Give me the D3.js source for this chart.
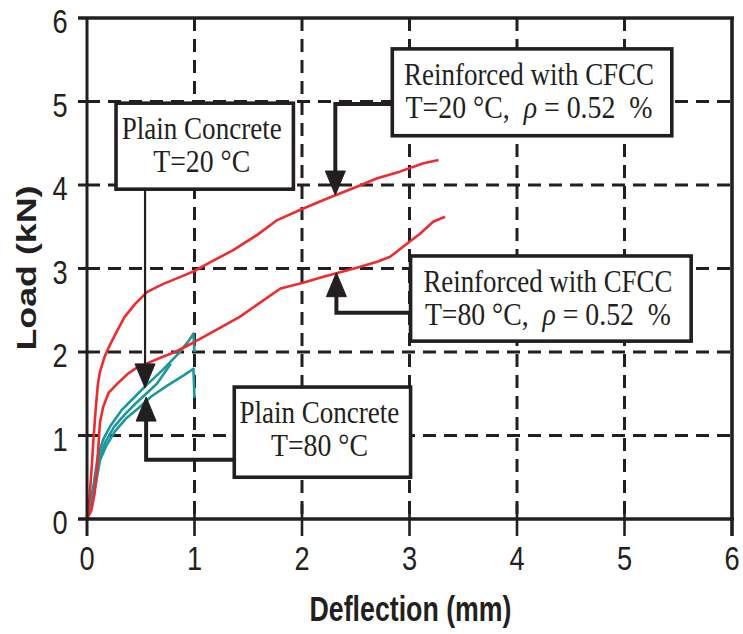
<!DOCTYPE html>
<html>
<head>
<meta charset="utf-8">
<script src="https://cdn.jsdelivr.net/npm/d3@7"></script>
<style>
  html, body { margin: 0; padding: 0; background: #fff; }
  svg { display: block; }
</style>
</head>
<body>
<svg id="chart" width="743" height="634"></svg>
<script>
// ---------------- data ----------------
const xTicks = [0, 1, 2, 3, 4, 5, 6];
const yTicks = [0, 1, 2, 3, 4, 5, 6];
const xTitle = "Deflection (mm)";
const yTitle = "Load (kN)";

// Reinforced with CFCC, T=20 °C
const cfcc20 = [[0,0],[0.02,0.2],[0.04,0.55],[0.06,0.95],[0.08,1.3],[0.1,1.6],[0.12,1.76],[0.16,1.93],[0.2,2.05],[0.27,2.23],[0.35,2.42],[0.45,2.58],[0.56,2.72],[0.7,2.81],[0.87,2.9],[1.0,2.97],[1.14,3.07],[1.36,3.22],[1.58,3.4],[1.77,3.58],[1.98,3.7],[2.2,3.82],[2.51,3.98],[2.7,4.08],[2.91,4.16],[3.13,4.26],[3.27,4.3]];
// Reinforced with CFCC, T=80 °C
const cfcc80 = [[0,0],[0.04,0.1],[0.07,0.3],[0.09,0.55],[0.1,0.75],[0.12,1.15],[0.15,1.34],[0.2,1.51],[0.29,1.63],[0.38,1.74],[0.46,1.81],[0.57,1.87],[0.7,1.94],[0.82,2.0],[1.0,2.12],[1.17,2.24],[1.42,2.42],[1.62,2.6],[1.8,2.76],[2.01,2.83],[2.2,2.9],[2.51,3.01],[2.7,3.08],[2.82,3.14],[2.94,3.26],[3.1,3.42],[3.22,3.56],[3.33,3.62]];
// Plain concrete specimens (teal)
const plainA = [[0,0],[0.06,0.4],[0.1,0.75],[0.15,0.95],[0.22,1.12],[0.32,1.3],[0.45,1.47],[0.55,1.6],[0.7,1.78],[0.85,1.98],[0.95,2.14],[0.99,2.22],[1.0,2.0]];
const plainC = [[0,0],[0.07,0.4],[0.11,0.72],[0.17,0.92],[0.25,1.1],[0.35,1.25],[0.45,1.38],[0.55,1.5],[0.65,1.62],[0.78,1.86]];
const plainB = [[0,0],[0.08,0.4],[0.12,0.7],[0.18,0.88],[0.26,1.05],[0.36,1.2],[0.48,1.33],[0.6,1.47],[0.75,1.6],[0.9,1.72],[0.99,1.8],[1.0,1.45]];

// annotation boxes: [x0, yTop, x1, yBottom] in data units
const boxPlain20 = [0.27, 4.98, 1.92, 3.95];
const boxCfcc20  = [2.84, 5.63, 5.44, 4.59];
const boxCfcc80  = [3.01, 3.15, 5.62, 2.13];
const boxPlain80 = [1.37, 1.58, 3.01, 0.50];
const labelPlain20 = ["Plain Concrete", "T=20 °C"];
const labelPlain80 = ["Plain Concrete", "T=80 °C"];
const labelCfcc20  = ["Reinforced with CFCC", ["T=20 °C,\u00a0\u00a0", "ρ", " = 0.52\u00a0\u00a0%"]];
const labelCfcc80  = ["Reinforced with CFCC", ["T=80 °C,\u00a0\u00a0", "ρ", " = 0.52\u00a0\u00a0%"]];
// leader lines (data units), last point = arrow tip
const leaderPlain20 = [[0.54,3.95],[0.54,1.57]];
const leaderCfcc20  = [[2.84,4.97],[2.31,4.97],[2.31,3.88]];
const leaderCfcc80  = [[3.01,2.47],[2.32,2.47],[2.32,2.95]];
const leaderPlain80 = [[1.37,0.71],[0.55,0.71],[0.55,1.46]];

// ---------------- drawing ----------------
const INK = "#231f20", RED = "#ee2b2f", TEAL = "#1c979d";
const svg = d3.select("#chart");
const x = d3.scaleLinear().domain([0, 6]).range([87, 732]);
const y = d3.scaleLinear().domain([0, 6]).range([519, 18]);

// grid
const grid = svg.append("g");
grid.selectAll("line.v").data(xTicks.filter(d => d > 0 && d < 6)).enter().append("line")
  .attr("x1", d => x(d)).attr("x2", d => x(d)).attr("y1", y(6)).attr("y2", y(0))
  .attr("stroke", INK).attr("stroke-width", 3).attr("stroke-dasharray", "13,8");
grid.selectAll("line.h").data(yTicks.filter(d => d > 0 && d < 6)).enter().append("line")
  .attr("x1", x(0)).attr("x2", x(6)).attr("y1", d => y(d)).attr("y2", d => y(d))
  .attr("stroke", INK).attr("stroke-width", 3).attr("stroke-dasharray", "13,8");

// curves
const line = d3.line().x(d => x(d[0])).y(d => y(d[1]));
const series = [[plainB, TEAL], [plainC, TEAL], [plainA, TEAL], [cfcc80, RED], [cfcc20, RED]];
svg.append("g").selectAll("path").data(series).enter().append("path")
  .attr("d", d => line(d[0])).attr("fill", "none").attr("stroke", d => d[1])
  .attr("stroke-width", 2.6).attr("stroke-linejoin", "round");

// frame & ticks
const frame = svg.append("g").attr("stroke", INK);
frame.append("line").attr("x1", x(0)).attr("x2", x(0)).attr("y1", y(6)).attr("y2", y(0) + 17).attr("stroke-width", 3);
frame.append("line").attr("x1", x(0) - 9).attr("x2", x(6) + 2).attr("y1", y(0)).attr("y2", y(0)).attr("stroke-width", 3.6);
frame.append("line").attr("x1", x(0) - 9).attr("x2", x(6) + 2).attr("y1", y(6)).attr("y2", y(6)).attr("stroke-width", 3.6);
frame.append("line").attr("x1", x(6)).attr("x2", x(6)).attr("y1", y(6)).attr("y2", y(0) + 17).attr("stroke-width", 3.6);
frame.selectAll("line.xt").data(xTicks.slice(1, 6)).enter().append("line")
  .attr("x1", d => x(d)).attr("x2", d => x(d)).attr("y1", y(0) - 15).attr("y2", y(0) + 17).attr("stroke-width", 2.6);
frame.selectAll("line.yt").data(yTicks.slice(1, 6)).enter().append("line")
  .attr("x1", x(0) - 9).attr("x2", x(0)).attr("y1", d => y(d)).attr("y2", d => y(d)).attr("stroke-width", 3);

// text helper: horizontally condensed text like the reference
function scaledText(g, tx, ty, str, opts) {
  const t = g.append("text")
    .attr("text-anchor", "middle")
    .attr("font-family", opts.family)
    .attr("font-size", opts.size)
    .attr("font-weight", opts.weight || "normal")
    .attr("fill", INK);
  if (Array.isArray(str)) {
    str.forEach((s, i) => t.append("tspan").text(s).attr("font-style", i === 1 ? "italic" : null));
  } else t.text(str);
  let sx = opts.sx || 1;
  if (opts.width) sx = opts.width / t.node().getComputedTextLength();
  t.attr("transform", `translate(${tx},${ty}) ${opts.rotate ? "rotate(-90) scale(1," + (opts.sy || 0.78) + ")" : ""} scale(${sx},1)`);
  return t;
}
const labels = svg.append("g");
xTicks.forEach(d => scaledText(labels, x(d), y(0) + 51, d, {family: "'Liberation Sans', Arial, sans-serif", size: 34, sx: 0.8}));
yTicks.forEach(d => scaledText(labels, 60, y(d) + 15, d, {family: "'Liberation Sans', Arial, sans-serif", size: 34, sx: 0.8}));
scaledText(labels, (x(0) + x(6)) / 2 + 1, 621, xTitle, {family: "'Liberation Sans', Arial, sans-serif", size: 35, weight: "bold", width: 202});
scaledText(labels, 36, 268, yTitle, {family: "'Liberation Sans', Arial, sans-serif", size: 36, weight: "bold", width: 165, rotate: true, sy: 0.78});

// annotations
const ann = svg.append("g");
const annotations = [
  {box: boxPlain20, label: labelPlain20, leader: leaderPlain20, widths: [160, 97], lw: 2.2},
  {box: boxCfcc20, label: labelCfcc20, leader: leaderCfcc20, widths: [250, 247], lw: 4},
  {box: boxCfcc80, label: labelCfcc80, leader: leaderCfcc80, widths: [249, 246], lw: 4},
  {box: boxPlain80, label: labelPlain80, leader: leaderPlain80, widths: [160, 97], lw: 4}
];
annotations.forEach(a => {
  const [bx0, byT, bx1, byB] = a.box;
  const X0 = x(bx0), X1 = x(bx1), YT = y(byT), YB = y(byB);
  ann.append("rect").attr("x", X0).attr("y", YT).attr("width", X1 - X0).attr("height", YB - YT)
    .attr("fill", "#fff").attr("stroke", INK).attr("stroke-width", 3.6);
  const cx = (X0 + X1) / 2 - 3;
  scaledText(ann, cx, YT + 36, a.label[0], {family: "'Liberation Serif', 'Times New Roman', serif", size: 32, width: a.widths[0]});
  scaledText(ann, cx, YT + 69, a.label[1], {family: "'Liberation Serif', 'Times New Roman', serif", size: 32, width: a.widths[1]});
  // leader
  const pts = a.leader.map(p => [x(p[0]), y(p[1])]);
  const tip = pts[pts.length - 1], prev = pts[pts.length - 2];
  const dir = Math.sign(tip[1] - prev[1]); // +1 pointing down
  const headH = 24, headW = 10;
  const base = [tip[0], tip[1] - dir * headH];
  const shaft = pts.slice(0, -1).concat([base]);
  ann.append("path").attr("d", d3.line()(shaft)).attr("fill", "none").attr("stroke", INK)
    .attr("stroke-width", a.lw);
  ann.append("path")
    .attr("d", d3.line()([[base[0] - headW, base[1]], [base[0] + headW, base[1]], tip]) + "Z")
    .attr("fill", INK).attr("stroke", INK).attr("stroke-width", 1);
});
</script>
</body>
</html>
